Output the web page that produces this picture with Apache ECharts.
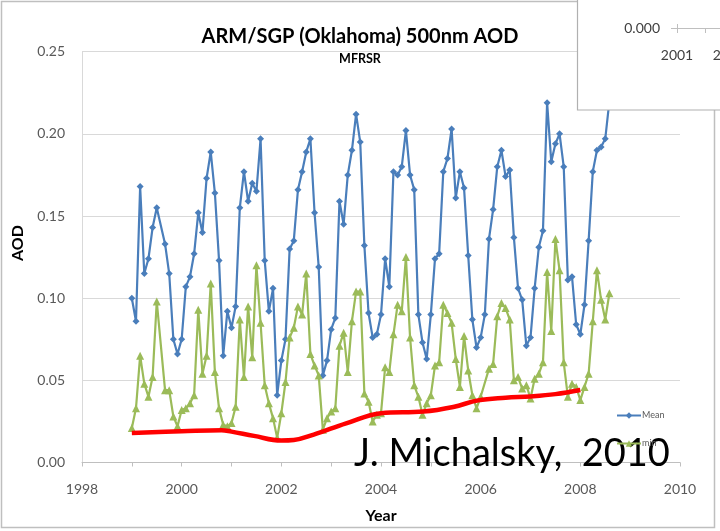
<!DOCTYPE html>
<html>
<head>
<meta charset="utf-8">
<script src="https://cdn.jsdelivr.net/npm/echarts@6/dist/echarts.min.js"></script>
<style>
  html, body { margin: 0; padding: 0; background: #ffffff; }
  #chart { width: 720px; height: 531px; }
</style>
</head>
<body>
<div id="chart"></div>
<script>
// Monthly 500 nm aerosol optical depth at ARM/SGP, starting January 1999.
const firstYear = 1999;

// Monthly mean AOD (null = month without data)
const meanAOD = [
  0.100, 0.086, 0.168, 0.115, 0.124, 0.143, 0.155, null,  0.133, 0.115, 0.075, 0.066, // 1999
  0.075, 0.107, 0.113, 0.127, 0.152, 0.140, 0.173, 0.189, 0.164, 0.123, 0.065, 0.092, // 2000
  0.082, 0.095, 0.155, 0.177, 0.159, 0.170, 0.165, 0.197, 0.123, 0.092, 0.106, 0.041, // 2001
  0.062, 0.075, 0.130, 0.135, 0.166, 0.177, 0.189, 0.197, 0.152, 0.119, 0.053, 0.062, // 2002
  0.081, 0.088, 0.159, 0.145, 0.175, 0.190, 0.212, 0.195, 0.132, 0.091, 0.076, 0.078, // 2003
  0.090, 0.124, 0.107, 0.177, 0.175, 0.180, 0.202, 0.175, 0.166, 0.090, 0.073, 0.063, // 2004
  0.090, 0.124, 0.127, 0.177, 0.185, 0.203, 0.161, 0.177, 0.167, 0.126, 0.087, 0.070, // 2005
  0.076, 0.090, 0.136, 0.154, 0.180, 0.190, 0.174, 0.178, 0.137, 0.106, 0.099, 0.071, // 2006
  0.076, 0.106, 0.131, 0.141, 0.219, 0.183, 0.194, 0.200, 0.180, 0.111, 0.113, 0.084, // 2007
  0.078, 0.096, 0.135, 0.177, 0.190, 0.192, 0.197, 0.220                              // 2008
];

// Monthly minimum AOD
const minAOD = [
  0.021, 0.033, 0.065, 0.048, 0.040, 0.052, 0.098, null,  0.044, 0.044, 0.028, 0.022, // 1999
  0.032, 0.033, 0.036, 0.041, 0.093, 0.054, 0.065, 0.109, 0.055, 0.033, 0.023, 0.022, // 2000
  0.024, 0.034, 0.087, 0.052, 0.095, 0.064, 0.120, 0.085, 0.047, 0.036, 0.027, 0.015, // 2001
  0.030, 0.049, 0.076, 0.082, 0.095, 0.090, 0.115, 0.066, 0.059, 0.053, 0.020, 0.027, // 2002
  0.031, 0.033, 0.071, 0.079, 0.055, 0.086, 0.104, 0.104, 0.042, 0.037, 0.025, 0.029, // 2003
  0.030, 0.058, 0.055, 0.078, 0.096, 0.092, 0.125, 0.076, 0.047, 0.040, 0.029, 0.036, // 2004
  0.041, 0.059, 0.061, 0.096, 0.091, 0.085, 0.063, 0.046, 0.077, 0.056, 0.041, 0.033, // 2005
  0.040, null,  0.057, 0.060, 0.089, 0.097, 0.094, 0.087, 0.050, 0.052, 0.045, 0.047, // 2006
  0.039, 0.051, 0.054, 0.061, 0.116, 0.080, 0.136, 0.117, 0.061, 0.040, 0.048, 0.046, // 2007
  0.038, 0.046, 0.054, 0.086, 0.117, 0.099, 0.087, 0.103                              // 2008
];

// Hand-drawn background trend
const trendYears = [1999.0, 2000.0, 2000.8, 2001.0, 2001.45, 2002.0, 2002.25, 2002.65, 2003.3, 2004.0, 2004.85, 2005.45, 2005.95, 2006.5, 2007.0, 2007.5, 2008.0];
const trendAOD   = [0.018, 0.019, 0.0197, 0.0188, 0.0162, 0.0134, 0.0137, 0.0170, 0.0238, 0.0300, 0.0310, 0.0338, 0.0378, 0.0394, 0.0402, 0.0416, 0.0441];

const yearTicks = { min: 1998, max: 2010, step: 2 };
const aodTicks  = { min: 0, max: 0.25, step: 0.05 };

function monthly(values) {
  const out = [];
  values.forEach((v, i) => {
    if (v !== null) out.push([firstYear + i / 12, v]);
  });
  return out;
}

const FONT = 'Lato, "Open Sans", sans-serif';
const PANEL_Z = 100;
const chart = echarts.init(document.getElementById('chart'), null, { renderer: 'canvas' });

chart.setOption({
  animation: false,
  backgroundColor: '#ffffff',
  title: {
    text: 'ARM/SGP (Oklahoma) 500nm AOD',
    subtext: 'MFRSR',
    left: 'center',
    top: 22,
    itemGap: 5,
    textStyle: { fontFamily: FONT, fontWeight: 'bold', fontSize: 20, color: '#000000' },
    subtextStyle: { fontFamily: FONT, fontWeight: 'bold', fontSize: 12.5, color: '#000000' }
  },
  grid: { left: 82, right: 40, top: 51.7, bottom: 68.5, containLabel: false },
  legend: {
    orient: 'vertical',
    left: 611,
    top: 406,
    itemGap: 19,
    itemWidth: 24,
    itemHeight: 8,
    z: 60,
    textStyle: { fontFamily: FONT, fontSize: 9, color: '#595959', padding: [0, 0, 0, -4] },
    data: ['Mean', 'min']
  },
  xAxis: {
    type: 'value',
    min: yearTicks.min,
    max: yearTicks.max,
    interval: yearTicks.step,
    name: 'Year',
    nameLocation: 'middle',
    nameGap: 45,
    nameTextStyle: { fontFamily: FONT, fontWeight: 'bold', fontSize: 16, color: '#000000' },
    axisLine: { lineStyle: { color: '#bfbfbf', width: 1 } },
    axisTick: { show: true, inside: false, length: 4, lineStyle: { color: '#bfbfbf' } },
    minorTick: { show: true, splitNumber: 2, length: 4, lineStyle: { color: '#bfbfbf' } },
    axisLabel: { margin: 20, fontFamily: FONT, fontSize: 14, color: '#595959', formatter: v => String(v) },
    splitLine: { show: false }
  },
  yAxis: {
    type: 'value',
    min: aodTicks.min,
    max: aodTicks.max,
    interval: aodTicks.step,
    axisLine: { show: true, lineStyle: { color: '#d9d9d9', width: 1 } },
    axisTick: { show: false },
    axisLabel: { margin: 17, fontFamily: FONT, fontSize: 14, color: '#595959', formatter: v => v.toFixed(2) },
    splitLine: { show: true, lineStyle: { color: '#d9d9d9', width: 1 } }
  },
  series: [
    {
      name: 'Mean',
      type: 'line',
      data: monthly(meanAOD),
      color: '#4a7ebb',
      lineStyle: { width: 2.2, color: '#4a7ebb' },
      symbol: 'diamond',
      symbolSize: 7,
      itemStyle: { color: '#4a7ebb' },
      z: 3
    },
    {
      name: 'min',
      type: 'line',
      data: monthly(minAOD),
      color: '#9bbb59',
      lineStyle: { width: 2.2, color: '#9bbb59' },
      symbol: 'triangle',
      symbolSize: 8,
      itemStyle: { color: '#9bbb59' },
      z: 4
    },
    {
      name: 'trend',
      type: 'line',
      data: trendYears.map((y, i) => [y, trendAOD[i]]),
      smooth: 0.4,
      showSymbol: false,
      lineStyle: { width: 4.5, color: '#ff0000' },
      z: 5
    }
  ],
  graphic: [
    // outer frame
    {
      type: 'rect', z: 0, silent: true,
      shape: { x: 1.5, y: 1.5, width: 713, height: 526 },
      style: { fill: null, stroke: '#bfbfbf', lineWidth: 1.5 }
    },
    // y axis title
    {
      type: 'text', z: 10, x: 18, y: 243, rotation: Math.PI / 2,
      style: { text: 'AOD', align: 'center', verticalAlign: 'middle',
        fontFamily: FONT, fontWeight: 'bold', fontSize: 16, fill: '#000000' }
    },
    {
      type: 'text', z: 50, left: 354, top: 435,
      style: { text: 'J. Michalsky,  2010', fontFamily: FONT, fontSize: 38, fill: '#000000' }
    },
    // overlapping panel in the top-right corner
    { type: 'rect', z: PANEL_Z, shape: { x: 577.5, y: -5, width: 160, height: 115 },
      style: { fill: '#ffffff', stroke: '#b0b0b0', lineWidth: 1.2 } },
    { type: 'line', z: PANEL_Z + 1, shape: { x1: 671, y1: 28.5, x2: 722, y2: 28.5 }, style: { stroke: '#bfbfbf', lineWidth: 1 } },
    { type: 'line', z: PANEL_Z + 1, shape: { x1: 677.5, y1: 24, x2: 677.5, y2: 33 }, style: { stroke: '#bfbfbf', lineWidth: 1 } },
    { type: 'line', z: PANEL_Z + 1, shape: { x1: 705.5, y1: 28, x2: 705.5, y2: 33 }, style: { stroke: '#bfbfbf', lineWidth: 1 } },
    { type: 'text', z: PANEL_Z + 1, style: { x: 660, y: 28, text: '0.000', align: 'right', verticalAlign: 'middle',
        fontFamily: FONT, fontSize: 14, fill: '#404040' } },
    { type: 'text', z: PANEL_Z + 1, style: { x: 677, y: 55, text: '2001', align: 'center', verticalAlign: 'middle',
        fontFamily: FONT, fontSize: 14, fill: '#404040' } },
    { type: 'text', z: PANEL_Z + 1, style: { x: 729, y: 55, text: '2002', align: 'center', verticalAlign: 'middle',
        fontFamily: FONT, fontSize: 14, fill: '#404040' } }
  ]
});
</script>
</body>
</html>
